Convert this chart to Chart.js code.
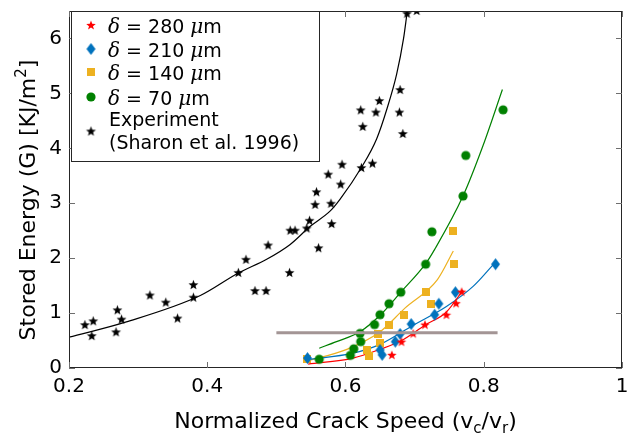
<!DOCTYPE html>
<html>
<head>
<meta charset="utf-8">
<script src="https://cdn.jsdelivr.net/npm/chart.js@4.4.1/dist/chart.umd.min.js"></script>
<style>
  html, body { margin: 0; padding: 0; background: #fff; }
  #wrap { width: 629px; height: 442px; }
</style>
</head>
<body>
<div id="wrap"><canvas id="chart" width="629" height="442"></canvas></div>
<script>
// Experiment (Sharon et al. 1996)
const expV = [0.223, 0.235, 0.233, 0.270, 0.276, 0.268, 0.317, 0.340, 0.357, 0.380, 0.380,
  0.445, 0.456, 0.469, 0.485, 0.488, 0.519, 0.520, 0.527, 0.544, 0.548, 0.556, 0.558, 0.561,
  0.575, 0.579, 0.580, 0.593, 0.595, 0.622, 0.623, 0.625, 0.639, 0.644, 0.649, 0.678, 0.679,
  0.683, 0.689, 0.703];
const expG = [0.79, 0.86, 0.59, 1.06, 0.89, 0.66, 1.33, 1.20, 0.91, 1.52, 1.29,
  1.74, 1.98, 1.41, 1.41, 2.24, 1.74, 2.51, 2.51, 2.55, 2.69, 2.98, 3.21, 2.19,
  3.53, 3.00, 2.63, 3.35, 3.71, 4.70, 3.65, 4.40, 3.73, 4.66, 4.87, 4.66, 5.07,
  4.27, 6.46, 6.51];
const expFitV = [0.20, 0.283, 0.39, 0.445, 0.486, 0.520, 0.549, 0.578, 0.592, 0.623, 0.645, 0.660, 0.674, 0.684, 0.689];
const expFitG = [0.56, 0.84, 1.32, 1.73, 1.98, 2.25, 2.58, 2.86, 3.07, 3.65, 4.17, 4.72, 5.35, 6.00, 6.46];

// delta = 280 um
const d280V = [0.667, 0.681, 0.698, 0.715, 0.746, 0.760, 0.768];
const d280G = [0.24, 0.48, 0.63, 0.79, 0.97, 1.18, 1.39];
const d280FitV = [0.546, 0.611, 0.650, 0.681, 0.715, 0.746, 0.770];
const d280FitG = [0.07, 0.18, 0.34, 0.50, 0.78, 1.02, 1.42];

// delta = 210 um
const d210V = [0.545, 0.653, 0.650, 0.672, 0.679, 0.695, 0.729, 0.735, 0.759, 0.817];
const d210G = [0.18, 0.24, 0.33, 0.48, 0.62, 0.80, 0.97, 1.17, 1.38, 1.89];
const d210FitV = [0.544, 0.611, 0.650, 0.698, 0.746, 0.785, 0.815];
const d210FitG = [0.15, 0.27, 0.43, 0.78, 1.12, 1.49, 1.90];

// delta = 140 um
const d140V = [0.545, 0.634, 0.631, 0.650, 0.647, 0.663, 0.685, 0.724, 0.716, 0.757, 0.756];
const d140G = [0.16, 0.22, 0.33, 0.46, 0.62, 0.79, 0.97, 1.17, 1.38, 1.89, 2.49];
const d140FitV = [0.545, 0.602, 0.650, 0.686, 0.733, 0.756];
const d140FitG = [0.13, 0.34, 0.66, 1.09, 1.61, 2.13];

// delta = 70 um
const d70V = [0.562, 0.607, 0.612, 0.622, 0.621, 0.642, 0.650, 0.663, 0.680, 0.716, 0.725, 0.770, 0.774, 0.828];
const d70G = [0.16, 0.23, 0.35, 0.48, 0.63, 0.79, 0.97, 1.17, 1.38, 1.89, 2.48, 3.13, 3.87, 4.70];
const d70FitV = [0.562, 0.587, 0.621, 0.650, 0.680, 0.716, 0.729, 0.770, 0.799, 0.827];
const d70FitG = [0.36, 0.48, 0.66, 0.96, 1.38, 1.90, 2.16, 3.13, 4.05, 5.07];

// horizontal reference line
const refLineV = [0.5, 0.82];
const refLineG = [0.64, 0.64];

const xTicks = [0.2, 0.4, 0.6, 0.8, 1];
const yTicks = [0, 1, 2, 3, 4, 5, 6];

const legendLabels = ['280', '210', '140', '70'];

function pts(xs, ys) {
  return xs.map((x, i) => ({ x: x, y: ys[i] }));
}

// marker images
function starImg(r, color) {
  const s = Math.ceil(r * 2 + 2);
  const c = document.createElement('canvas');
  c.width = c.height = s;
  const g = c.getContext('2d');
  g.translate(s / 2, s / 2 + r * 0.1);
  g.beginPath();
  for (let i = 0; i < 10; i++) {
    const rr = i % 2 ? r * 0.42 : r;
    const a = -Math.PI / 2 + i * Math.PI / 5;
    g.lineTo(rr * Math.cos(a), rr * Math.sin(a));
  }
  g.closePath();
  g.fillStyle = color;
  g.fill();
  return c;
}
function diamondImg(w, h, color) {
  const c = document.createElement('canvas');
  c.width = w + 2; c.height = h + 2;
  const g = c.getContext('2d');
  g.beginPath();
  g.moveTo(c.width / 2, 1);
  g.lineTo(c.width - 1, c.height / 2);
  g.lineTo(c.width / 2, c.height - 1);
  g.lineTo(1, c.height / 2);
  g.closePath();
  g.fillStyle = color;
  g.fill();
  return c;
}
function squareImg(s, color) {
  const c = document.createElement('canvas');
  c.width = c.height = s;
  const g = c.getContext('2d');
  g.fillStyle = color;
  g.fillRect(0, 0, s, s);
  return c;
}
function circleImg(r, color) {
  const s = Math.ceil(r * 2 + 2);
  const c = document.createElement('canvas');
  c.width = c.height = s;
  const g = c.getContext('2d');
  g.beginPath();
  g.arc(s / 2, s / 2, r, 0, Math.PI * 2);
  g.fillStyle = color;
  g.fill();
  return c;
}

const RED = '#ff0000', BLUE = '#0072bd', YELLOW = '#edb120', GREEN = '#008000', BLACK = '#000000';
const redStar = starImg(5, RED);
const blueDiamond = diamondImg(9, 12, BLUE);
const yellowSquare = squareImg(8, YELLOW);
const greenCircle = circleImg(4.6, GREEN);
const blackStar = starImg(5.2, BLACK);
const legendMarkers = [redStar, blueDiamond, yellowSquare, greenCircle];

function fitSet(xs, ys, color, order) {
  return {
    data: pts(xs, ys), showLine: true, borderColor: color, borderWidth: 1.2,
    pointRadius: 0, pointHoverRadius: 0, cubicInterpolationMode: 'monotone', order: order
  };
}
function markSet(xs, ys, img, order) {
  return { data: pts(xs, ys), showLine: false, pointStyle: img, pointRadius: 5, order: order };
}

// axes box, inward ticks, legend and axis titles
const decorPlugin = {
  id: 'decor',
  afterDraw(chart) {
    const ctx = chart.ctx;
    const a = chart.chartArea;
    const xs = chart.scales.x, ys = chart.scales.y;
    ctx.save();
    ctx.strokeStyle = '#262626';
    ctx.lineWidth = 1;
    ctx.strokeRect(a.left + 0.5, a.top + 0.5, a.right - a.left - 1, a.bottom - a.top - 1);
    ctx.strokeStyle = '#6e6e6e';
    ctx.beginPath();
    xTicks.forEach(v => {
      const px = Math.round(xs.getPixelForValue(v)) + 0.5;
      ctx.moveTo(px, a.bottom); ctx.lineTo(px, a.bottom - 6);
      ctx.moveTo(px, a.top); ctx.lineTo(px, a.top + 6);
    });
    yTicks.forEach(v => {
      const py = Math.round(ys.getPixelForValue(v)) + 0.5;
      ctx.moveTo(a.left, py); ctx.lineTo(a.left + 6, py);
      ctx.moveTo(a.right, py); ctx.lineTo(a.right - 6, py);
    });
    ctx.stroke();

    // legend
    const lx = 71, ly = 11, lw = 248, lh = 150;
    ctx.fillStyle = '#fff';
    ctx.fillRect(lx, ly, lw, lh);
    ctx.strokeStyle = '#262626';
    ctx.strokeRect(lx + 0.5, ly + 0.5, lw, lh);
    const sans = '19px "DejaVu Sans"';
    const ital = 'italic 20px "DejaVu Serif"';
    const rowsY = [25, 49, 72, 97];
    ctx.fillStyle = '#000';
    ctx.textBaseline = 'alphabetic';
    ctx.textAlign = 'left';
    legendLabels.forEach((lab, i) => {
      const m = legendMarkers[i];
      ctx.drawImage(m, 91 - m.width / 2, rowsY[i] - m.height / 2);
      let tx = 108;
      const by = rowsY[i] + 8;
      ctx.font = ital; ctx.fillText('δ', tx, by); tx += ctx.measureText('δ').width;
      ctx.font = sans;
      const mid = ' = ' + lab + ' ';
      ctx.fillText(mid, tx, by); tx += ctx.measureText(mid).width;
      ctx.font = ital; ctx.fillText('μ', tx, by); tx += ctx.measureText('μ').width;
      ctx.font = sans; ctx.fillText('m', tx, by);
    });
    ctx.drawImage(blackStar, 91 - blackStar.width / 2, 131 - blackStar.height / 2);
    ctx.font = sans;
    ctx.fillText('Experiment', 109, 126);
    ctx.fillText('(Sharon et al. 1996)', 109, 149);

    // x title
    const big = '22px "DejaVu Sans"', small = '15px "DejaVu Sans"';
    const xParts = [['Normalized Crack Speed (v', big, 0], ['c', small, 5], ['/v', big, 0], ['r', small, 5], [')', big, 0]];
    let wsum = 0;
    xParts.forEach(p => { ctx.font = p[1]; wsum += ctx.measureText(p[0]).width; });
    let tx = (a.left + a.right) / 2 - wsum / 2;
    xParts.forEach(p => { ctx.font = p[1]; ctx.fillText(p[0], tx, 428 + p[2]); tx += ctx.measureText(p[0]).width; });

    // y title
    ctx.translate(35, 200);
    ctx.rotate(-Math.PI / 2);
    const yParts = [['Stored Energy (G) [KJ/m', big, 0], ['2', small, -9], [']', big, 0]];
    wsum = 0;
    yParts.forEach(p => { ctx.font = p[1]; wsum += ctx.measureText(p[0]).width; });
    tx = -wsum / 2;
    yParts.forEach(p => { ctx.font = p[1]; ctx.fillText(p[0], tx, p[2]); tx += ctx.measureText(p[0]).width; });
    ctx.restore();
  }
};

new Chart(document.getElementById('chart'), {
  type: 'scatter',
  data: {
    datasets: [
      { data: pts(refLineV, refLineG), showLine: true, borderColor: '#a39595', borderWidth: 3, pointRadius: 0, order: 0 },
      markSet(d280V, d280G, redStar, 1),
      markSet(d210V, d210G, blueDiamond, 2),
      markSet(d140V, d140G, yellowSquare, 3),
      markSet(d70V, d70G, greenCircle, 4),
      markSet(expV, expG, blackStar, 5),
      fitSet(d280FitV, d280FitG, RED, 6),
      fitSet(d210FitV, d210FitG, BLUE, 7),
      fitSet(d140FitV, d140FitG, YELLOW, 8),
      fitSet(d70FitV, d70FitG, GREEN, 9),
      fitSet(expFitV, expFitG, BLACK, 10)
    ]
  },
  options: {
    responsive: false,
    animation: false,
    layout: { padding: { left: 0, right: 7, top: 11, bottom: 0 } },
    plugins: { legend: { display: false }, tooltip: { enabled: false } },
    scales: {
      x: {
        min: 0.2, max: 1,
        afterBuildTicks: s => { s.ticks = xTicks.map(v => ({ value: v })); },
        afterFit: s => { s.height = 74; s.paddingLeft = 0; s.paddingRight = 0; },
        grid: { display: false, drawTicks: false },
        border: { display: false },
        ticks: {
          padding: 7, color: '#000', font: { family: 'DejaVu Sans', size: 20 },
          callback: v => (v === 1 ? '1' : v.toFixed(1))
        }
      },
      y: {
        min: 0, max: 6.5,
        afterBuildTicks: s => { s.ticks = yTicks.map(v => ({ value: v })); },
        afterFit: s => { s.width = 69; s.paddingTop = 0; s.paddingBottom = 0; },
        grid: { display: false, drawTicks: false },
        border: { display: false },
        ticks: {
          padding: 7, color: '#000', font: { family: 'DejaVu Sans', size: 20 },
          callback: v => String(v)
        }
      }
    }
  },
  plugins: [decorPlugin]
});
</script>
</body>
</html>
